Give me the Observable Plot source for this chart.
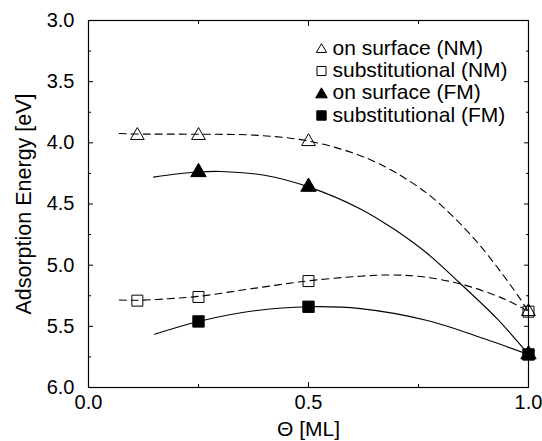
<!DOCTYPE html>
<html>
<head>
<meta charset="utf-8">
<script src="https://cdn.jsdelivr.net/npm/d3@7"></script>
<script src="https://cdn.jsdelivr.net/npm/@observablehq/plot@0.6"></script>
<style>
  html, body { margin: 0; padding: 0; background: #fff; }
  #chart svg { display: block; }
</style>
</head>
<body>
<div id="chart"></div>
<script>
// Coverage values (ML) of the computed configurations
const coverageNM = [0.111, 0.25, 0.5, 1.0];
const coverageFM = [0.25, 0.5, 1.0];

// Adsorption energies (eV)
const surfaceNM = [3.94, 3.94, 3.99, 5.38];
const substNM = [5.29, 5.26, 5.13, 5.38];
const surfaceFM = [4.24, 4.36, 5.73];
const substFM = [5.46, 5.34, 5.73];

// Fitted trend curves
const fitSurfaceNMx = [0.07, 0.111, 0.25, 0.375, 0.5, 0.618, 0.694, 0.77, 0.83, 0.883, 0.936, 0.982, 1.0];
const fitSurfaceNMy = [3.924, 3.928, 3.93, 3.937, 3.985, 4.105, 4.235, 4.415, 4.608, 4.81, 5.05, 5.28, 5.38];
const fitSubstNMx = [0.07, 0.111, 0.18, 0.25, 0.375, 0.5, 0.618, 0.69, 0.76, 0.845, 0.921, 0.96, 1.0];
const fitSubstNMy = [5.285, 5.287, 5.275, 5.255, 5.19, 5.128, 5.09, 5.08, 5.095, 5.153, 5.242, 5.302, 5.378];
const fitSurfaceFMx = [0.148, 0.2, 0.25, 0.3, 0.4, 0.5, 0.618, 0.694, 0.77, 0.845, 0.929, 1.0];
const fitSurfaceFMy = [4.28, 4.255, 4.238, 4.234, 4.265, 4.36, 4.54, 4.705, 4.905, 5.15, 5.44, 5.73];
const fitSubstFMx = [0.15, 0.25, 0.383, 0.5, 0.618, 0.77, 0.898, 1.0];
const fitSubstFMy = [5.565, 5.46, 5.37, 5.34, 5.355, 5.452, 5.6, 5.73];

// Axis ticks
const xMajor = [0, 0.5, 1];
const xMinor = [0.25, 0.75];
const yMajor = [3.0, 3.5, 4.0, 4.5, 5.0, 5.5, 6.0];
const yMinor = [3.25, 3.75, 4.25, 4.75, 5.25, 5.75];

// Legend entries
const legendLabels = ["on surface (NM)", "substitutional (NM)", "on surface (FM)", "substitutional (FM)"];

const zip = (xs, ys) => xs.map((x, i) => ({x, y: ys[i]}));
const fmt = d3.format(".1f");
const blank = () => "";
const font = "'Liberation Sans', Arial, Helvetica, sans-serif";

const dash = "7,5";
const legendSymbols = [
  {symbol: "triangle", r: 3.8, fill: "none", dy: 29},
  {symbol: "square", r: 5.1, fill: "none", dy: 50.5},
  {symbol: "triangle", r: 4.3, fill: "black", dy: 74},
  {symbol: "square", r: 5.3, fill: "black", dy: 95}
];
const legendRows = [27.3, 49.7, 72.1, 94.5];

const chart = Plot.plot({
  width: 542,
  height: 441,
  marginLeft: 88,
  marginRight: 14,
  marginTop: 20,
  marginBottom: 54,
  x: {domain: [0, 1]},
  y: {domain: [3, 6], reverse: true},
  style: {fontFamily: font, fontSize: "20px", color: "black", background: "white"},
  marks: [
    // axes with inward ticks on all four sides
    Plot.axisX({anchor: "bottom", ticks: xMajor, tickSize: -5, tickPadding: 12, tickFormat: fmt, label: null, fontSize: 20}),
    Plot.axisX({anchor: "bottom", ticks: xMinor, tickSize: -3, tickFormat: blank, label: null}),
    Plot.axisX({anchor: "top", ticks: xMajor, tickSize: -5, tickFormat: blank, label: null}),
    Plot.axisX({anchor: "top", ticks: xMinor, tickSize: -3, tickFormat: blank, label: null}),
    Plot.axisY({anchor: "left", ticks: yMajor, tickSize: -5, tickPadding: 19, tickFormat: fmt, label: null, fontSize: 20}),
    Plot.axisY({anchor: "left", ticks: yMinor, tickSize: -3, tickFormat: blank, label: null}),
    Plot.axisY({anchor: "right", ticks: yMajor, tickSize: -5, tickFormat: blank, label: null}),
    Plot.axisY({anchor: "right", ticks: yMinor, tickSize: -3, tickFormat: blank, label: null}),
    Plot.frame({stroke: "black", strokeWidth: 1.2}),

    // axis titles
    Plot.text(["Θ [ML]"], {frameAnchor: "bottom", text: d => d, dy: 42, textAnchor: "middle", lineAnchor: "middle", fontSize: 21}),
    Plot.text(["Adsorption Energy [eV]"], {frameAnchor: "left", text: d => d, dx: -64, rotate: -90, textAnchor: "middle", lineAnchor: "middle", fontSize: 21.5}),

    // trend curves
    Plot.line(zip(fitSurfaceNMx, fitSurfaceNMy), {x: "x", y: "y", curve: "catmull-rom", stroke: "black", strokeWidth: 1.1, strokeDasharray: dash}),
    Plot.line(zip(fitSubstNMx, fitSubstNMy), {x: "x", y: "y", curve: "catmull-rom", stroke: "black", strokeWidth: 1.1, strokeDasharray: dash}),
    Plot.line(zip(fitSurfaceFMx, fitSurfaceFMy), {x: "x", y: "y", curve: "catmull-rom", stroke: "black", strokeWidth: 1.1}),
    Plot.line(zip(fitSubstFMx, fitSubstFMy), {x: "x", y: "y", curve: "catmull-rom", stroke: "black", strokeWidth: 1.1}),

    // computed points
    Plot.dot(zip(coverageNM, surfaceNM), {x: "x", y: "y", symbol: "triangle", r: 5.1, fill: "none", stroke: "black", strokeWidth: 1}),
    Plot.dot(zip(coverageNM, substNM), {x: "x", y: "y", symbol: "square", r: 6.2, fill: "none", stroke: "black", strokeWidth: 1}),
    Plot.dot(zip(coverageFM, surfaceFM), {x: "x", y: "y", symbol: "triangle", r: 5.7, fill: "black", stroke: "black", strokeWidth: 1}),
    Plot.dot(zip(coverageFM, substFM), {x: "x", y: "y", symbol: "square", r: 6.4, fill: "black", stroke: "black", strokeWidth: 1}),

    // legend
    ...legendSymbols.map(s => Plot.dot([0], {frameAnchor: "top-left", dx: 233, dy: s.dy, symbol: s.symbol, r: s.r, fill: s.fill, stroke: "black", strokeWidth: 1})),
    ...legendLabels.map((label, i) => Plot.text([label], {frameAnchor: "top-left", text: d => d, dx: 244, dy: legendRows[i], textAnchor: "start", lineAnchor: "middle", fontSize: 21}))
  ]
});

document.getElementById("chart").appendChild(chart);
</script>
</body>
</html>
